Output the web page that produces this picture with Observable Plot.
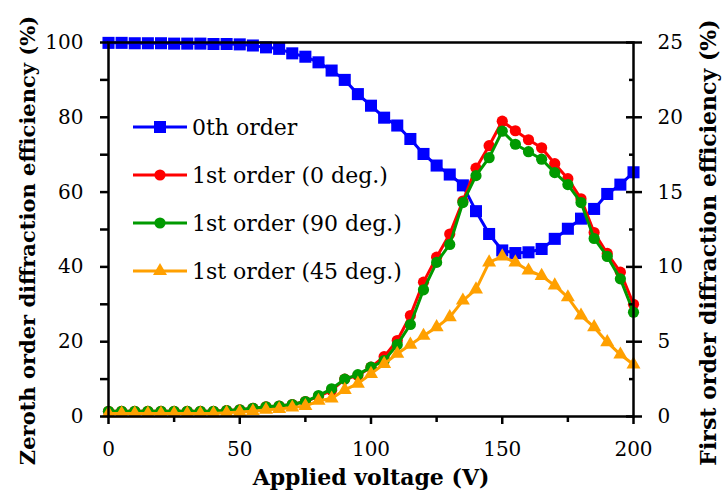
<!DOCTYPE html>
<html><head><meta charset="utf-8">
<script src="https://cdn.jsdelivr.net/npm/d3@7"></script>
<script src="https://cdn.jsdelivr.net/npm/@observablehq/plot@0.6"></script>
<style>
body{margin:0;background:#fff;}
#wrap{position:relative;width:722px;height:494px;font-family:"DejaVu Serif",serif;}
#legend{position:absolute;left:133px;top:103px;}
.row{display:flex;align-items:center;height:48px;font-size:22px;color:#000;white-space:nowrap;}
.row svg{margin-right:3px;}
</style></head><body><div id="wrap"></div>
<script>
const voltage = [0,5,10,15,20,25,30,35,40,45,50,55,60,65,70,75,80,85,90,95,100,105,110,115,120,125,130,135,140,145,150,155,160,165,170,175,180,185,190,195,200];
const zeroth = [99.9,99.9,99.8,99.8,99.8,99.7,99.7,99.7,99.6,99.6,99.5,99.2,98.7,98.3,97.1,96.2,94.7,92.5,90.0,86.2,83.1,79.9,77.8,74.2,70.2,67.1,64.7,61.8,54.9,48.8,44.4,43.7,43.9,44.8,47.5,50.2,52.9,55.5,59.5,62.0,65.3];
const first0 = [0.35,0.35,0.35,0.35,0.35,0.35,0.35,0.35,0.35,0.4,0.45,0.55,0.65,0.7,0.8,1.0,1.35,1.75,2.5,2.74,3.3,4.0,5.08,6.75,8.98,10.65,12.2,14.4,16.6,18.1,19.74,19.1,18.5,17.96,16.9,15.9,14.55,12.3,10.9,9.65,7.5];
const first90 = [0.35,0.35,0.35,0.35,0.35,0.35,0.35,0.35,0.35,0.4,0.45,0.55,0.65,0.7,0.8,1.0,1.4,1.85,2.5,2.8,3.3,3.74,4.8,6.15,8.47,10.3,11.5,14.3,16.1,17.3,19.07,18.2,17.7,17.2,16.3,15.5,14.3,11.9,10.7,9.2,6.97];
const first45 = [0.2,0.2,0.2,0.2,0.2,0.2,0.2,0.2,0.2,0.25,0.3,0.35,0.45,0.5,0.6,0.7,1.05,1.2,1.78,2.2,2.85,3.52,4.19,4.8,5.4,5.97,6.64,7.75,8.5,10.3,10.7,10.3,9.76,9.4,8.76,7.97,6.75,5.97,4.97,4.14,3.48];

const xTicks = [0,50,100,150,200];
const xMinorTicks = [25,75,125,175];
const leftTicks = [0,20,40,60,80,100];
const leftMinorTicks = [10,30,50,70,90];
const rightTicks = [0,5,10,15,20,25];
const rightMinorTicks = [2.5,7.5,12.5,17.5,22.5];

const seriesNames = ["0th order","1st order (0 deg.)","1st order (90 deg.)","1st order (45 deg.)"];
const seriesColors = ["#0000ff","#ff0000","#009a00","#ffa000"];
const seriesSymbols = ["square","circle","circle","triangle"];
const seriesR = [6.8,5.6,5.6,5.2];

const xTitle = "Applied voltage (V)";
const yTitleLeft = "Zeroth order diffraction efficiency (%)";
const yTitleRight = "First order diffraction efficiency (%)";

const rightMax = 25, leftMax = 100;
const k = leftMax / rightMax;
const seriesValues = [zeroth, first0.map(v=>v*k), first90.map(v=>v*k), first45.map(v=>v*k)];

const marks = [];
seriesValues.forEach((vals, s) => {
  const rows = voltage.map((v,i)=>({v, y: vals[i]}));
  marks.push(Plot.line(rows, {x:"v", y:"y", stroke: seriesColors[s], strokeWidth: 3}));
  marks.push(Plot.dot(rows, {x:"v", y:"y", symbol: seriesSymbols[s], r: seriesR[s], fill: seriesColors[s], stroke: "none"}));
});

const blank = () => "";
const axisStyle = {stroke: "black", strokeWidth: 2.5, fontSize: 20, color: "black"};

const chart = Plot.plot({
  width: 722, height: 494,
  marginLeft: 108, marginRight: 89, marginTop: 42, marginBottom: 78,
  x: {domain: [0, 200]},
  y: {domain: [0, leftMax]},
  style: {fontFamily: "'DejaVu Serif', serif", background: "white", color: "black", overflow: "visible"},
  marks: [
    ...marks,
    Plot.frame({stroke: "black", strokeWidth: 2.5}),
    Plot.axisX({ticks: xTicks, tickSize: 8, tickPadding: 17, ...axisStyle, label: null}),
    Plot.axisX({ticks: xMinorTicks, tickSize: 6, tickFormat: blank, ...axisStyle, label: null}),
    Plot.axisY({ticks: leftTicks, tickSize: 8, tickPadding: 17, ...axisStyle, label: null}),
    Plot.axisY({ticks: leftMinorTicks, tickSize: 8, tickFormat: blank, ...axisStyle, label: null}),
    Plot.axisY({anchor: "right", ticks: rightTicks.map(t=>t*k), tickSize: 8, tickPadding: 16, tickFormat: d => d / k, ...axisStyle, label: null}),
    Plot.axisY({anchor: "right", ticks: rightTicks.map(t=>t*k), tickSize: 8, dx: -8, tickFormat: blank, ...axisStyle, label: null}),
    Plot.axisY({anchor: "right", ticks: rightMinorTicks.map(t=>t*k), tickSize: 5, dx: -5, tickFormat: blank, ...axisStyle, label: null}),
    Plot.text([xTitle], {frameAnchor: "bottom", dy: 68, fontSize: 22, fontWeight: "bold", text: d => d, fill: "black"}),
    Plot.text([yTitleLeft], {frameAnchor: "left", textAnchor: "middle", rotate: -90, dx: -80, dy: 11, fontSize: 21, fontWeight: "bold", text: d => d, fill: "black"}),
    Plot.text([yTitleRight], {frameAnchor: "right", textAnchor: "middle", rotate: -90, dx: 75, dy: 13, fontSize: 22, fontWeight: "bold", text: d => d, fill: "black"})
  ]
});

const wrap = document.getElementById("wrap");
wrap.appendChild(chart);

const legend = document.createElement("div");
legend.id = "legend";
seriesNames.forEach((name, s) => {
  const row = document.createElement("div");
  row.className = "row";
  const ns = "http://www.w3.org/2000/svg";
  const sw = document.createElementNS(ns, "svg");
  sw.setAttribute("width", 56); sw.setAttribute("height", 20);
  const ln = document.createElementNS(ns, "line");
  ln.setAttribute("x1", 0); ln.setAttribute("x2", 54); ln.setAttribute("y1", 10); ln.setAttribute("y2", 10);
  ln.setAttribute("stroke", seriesColors[s]); ln.setAttribute("stroke-width", 3);
  sw.appendChild(ln);
  const p = document.createElementNS(ns, "path");
  const sym = {square: d3.symbolSquare, circle: d3.symbolCircle, triangle: d3.symbolTriangle}[seriesSymbols[s]];
  p.setAttribute("d", d3.symbol(sym, Math.PI * seriesR[s] * seriesR[s])());
  p.setAttribute("transform", "translate(27,10)");
  p.setAttribute("fill", seriesColors[s]);
  sw.appendChild(p);
  row.appendChild(sw);
  const t = document.createElement("span");
  t.textContent = name;
  row.appendChild(t);
  legend.appendChild(row);
});
wrap.appendChild(legend);
</script></body></html>
